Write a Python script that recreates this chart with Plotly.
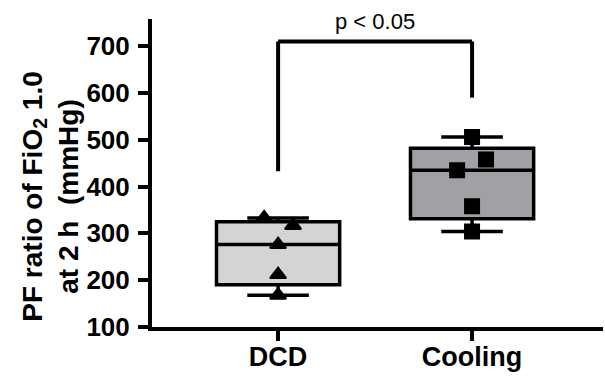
import plotly.graph_objects as go

# ---- data ----
categories = ["DCD", "Cooling"]
dcd_values = [333, 317, 276, 212, 168]
cooling_values = [506, 458, 435, 358, 304]
y_ticks = [100, 200, 300, 400, 500, 600, 700]
p_label = "p &lt; 0.05"
bracket_top = 710
bracket_left_bottom = 433
bracket_right_bottom = 590

# ---- styles ----
dcd_offsets = [-0.072, 0.077, 0.0, 0.0, 0.0]
cooling_offsets = [0.0, 0.072, -0.077, 0.0, 0.0]
fills = ["#d4d4d4", "#a1a1a5"]
symbols = ["triangle-up", "square"]
FONT = "Liberation Sans, Arial, sans-serif"

fig = go.Figure()
all_values = [dcd_values, cooling_values]
all_offsets = [dcd_offsets, cooling_offsets]
for i, (cat, vals) in enumerate(zip(categories, all_values)):
    fig.add_trace(go.Box(
        x=[i] * len(vals), y=vals, name=cat,
        quartilemethod="exclusive", boxpoints=False,
        width=0.635, whiskerwidth=0.5,
        fillcolor=fills[i], line=dict(color="black", width=3.5),
        showlegend=False, hoverinfo="skip",
    ))
for i, (vals, offs) in enumerate(zip(all_values, all_offsets)):
    fig.add_trace(go.Scatter(
        x=[i + o for o in offs], y=vals, mode="markers",
        marker=dict(symbol=symbols[i], size=14, color="black",
                    line=dict(color="black", width=2)),
        showlegend=False, hoverinfo="skip",
    ))

# significance bracket
line_style = dict(color="black", width=4)
fig.add_shape(type="line", x0=0, x1=1, y0=bracket_top, y1=bracket_top, line=line_style, layer="above")
fig.add_shape(type="line", x0=0, x1=0, y0=bracket_left_bottom, y1=bracket_top, line=line_style, layer="above")
fig.add_shape(type="line", x0=1, x1=1, y0=bracket_right_bottom, y1=bracket_top, line=line_style, layer="above")

fig.add_annotation(x=0.5, xref="x", y=1.0, yref="paper", yshift=-2, text=p_label,
                   showarrow=False, xanchor="center", yanchor="middle",
                   font=dict(family=FONT, size=22, color="black"))

fig.add_annotation(x=-0.227, xref="paper", y=0.425, yref="paper",
                   text="PF ratio of FiO<sub>2</sub> 1.0<br>at 2 h  (mmHg)",
                   textangle=-90, showarrow=False, xanchor="center", yanchor="middle",
                   font=dict(family=FONT, size=28, color="black", weight="bold"))

fig.update_layout(
    width=605, height=377,
    margin=dict(l=152, r=2, t=19, b=50),
    plot_bgcolor="white", paper_bgcolor="white",
    font=dict(family=FONT, color="black"),
    xaxis=dict(range=[-0.65, 1.675], tickvals=[0, 1], ticktext=categories,
               showline=True, linecolor="black", linewidth=4,
               ticks="outside", ticklen=10, tickwidth=4, tickcolor="black",
               ticklabelstandoff=-7,
               showgrid=False, zeroline=False,
               tickfont=dict(family=FONT, size=27, color="black", weight="bold")),
    yaxis=dict(range=[100, 758], tickvals=y_ticks,
               showline=True, linecolor="black", linewidth=4,
               ticks="outside", ticklen=10, tickwidth=4, tickcolor="black",
               ticklabelstandoff=3,
               showgrid=False, zeroline=False,
               tickfont=dict(family=FONT, size=26, color="black", weight="bold")),
)

fig.write_html("out.html", config={"displayModeBar": False},
               post_script="document.body.style.margin='0';document.body.style.overflow='hidden';")
